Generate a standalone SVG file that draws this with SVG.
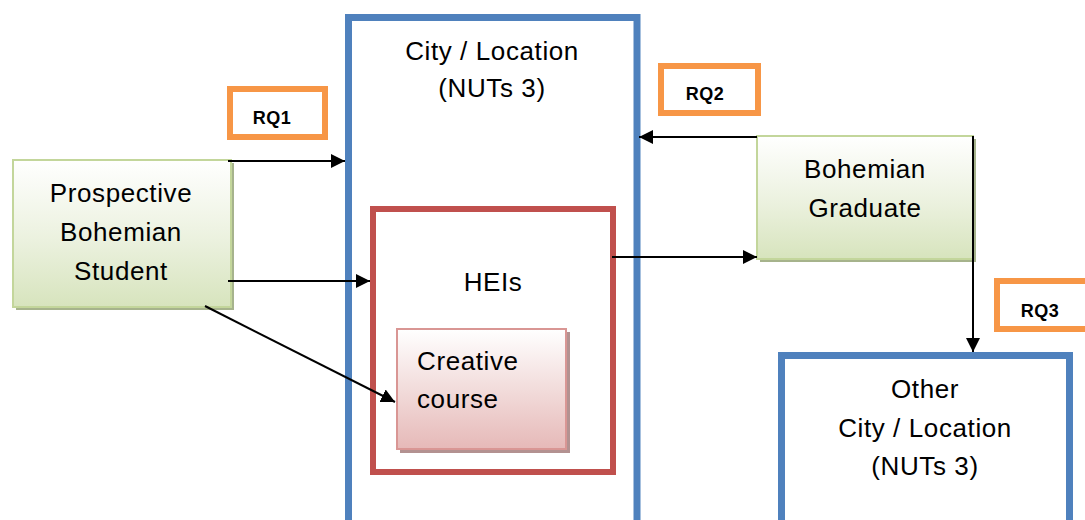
<svg xmlns="http://www.w3.org/2000/svg" width="1085" height="520" viewBox="0 0 1085 520">
  <defs>
    <linearGradient id="greenFill" x1="0" y1="0" x2="0" y2="1">
      <stop offset="0" stop-color="#ffffff"/>
      <stop offset="0.55" stop-color="#ebf1de"/>
      <stop offset="1" stop-color="#d7e4bd"/>
    </linearGradient>
    <linearGradient id="redFill" x1="0" y1="0" x2="0" y2="1">
      <stop offset="0" stop-color="#ffffff"/>
      <stop offset="0.5" stop-color="#f2dcdb"/>
      <stop offset="1" stop-color="#e6b9b8"/>
    </linearGradient>
    <marker id="arrowL" viewBox="0 0 10 10" refX="10" refY="5" markerWidth="14" markerHeight="14" markerUnits="userSpaceOnUse" orient="auto">
      <path d="M0,0 L10,5 L0,10 Z" fill="#000"/>
    </marker>
  </defs>
  <style>
    .txt { font-family: "Liberation Sans", Arial, sans-serif; font-size: 26px; letter-spacing: 0.6px; fill: #000; }
    .rq { font-family: "Liberation Sans", Arial, sans-serif; font-size: 18px; font-weight: bold; letter-spacing: 0.5px; fill: #000; }
    .city { fill: none; stroke: #4f81bd; stroke-width: 7; }
    .hei { fill: none; stroke: #c0504d; stroke-width: 6; }
    .rqbox { fill: #fff; stroke: #f79646; stroke-width: 6; }
    .green { fill: url(#greenFill); stroke: #c3d69b; stroke-width: 2; }
    .pink { fill: url(#redFill); stroke: #d99694; stroke-width: 2; }
    .shadowG { fill: #a6b38c; }
    .shadowR { fill: #b39291; }
    .conn { stroke: #000; stroke-width: 2; fill: none; }
  </style>

  <!-- Main city / location region -->
  <g id="city">
    <rect class="city" x="348.5" y="17.5" width="288.5" height="520"/>
    <text class="txt" text-anchor="middle" x="492" y="60">City / Location</text>
    <text class="txt" text-anchor="middle" x="492" y="97">(NUTs 3)</text>
  </g>

  <!-- Higher education institutions -->
  <g id="heis">
    <rect class="hei" x="373" y="209" width="240" height="263"/>
    <text class="txt" text-anchor="middle" x="493" y="291">HEIs</text>
  </g>

  <!-- Creative course -->
  <g id="creative-course">
    <rect class="shadowR" x="400" y="332" width="170" height="121"/>
    <rect class="pink" x="397" y="329" width="169" height="120"/>
    <text class="txt" x="417" y="370">Creative</text>
    <text class="txt" x="417" y="408">course</text>
  </g>

  <!-- Prospective student -->
  <g id="prospective-student">
    <rect class="shadowG" x="16" y="163" width="218" height="147"/>
    <rect class="green" x="13" y="160" width="218" height="147"/>
    <text class="txt" text-anchor="middle" x="121" y="202">Prospective</text>
    <text class="txt" text-anchor="middle" x="121" y="241">Bohemian</text>
    <text class="txt" text-anchor="middle" x="121" y="280">Student</text>
  </g>

  <!-- Graduate -->
  <g id="bohemian-graduate">
    <rect class="shadowG" x="760" y="139" width="216" height="123"/>
    <rect class="green" x="757" y="136" width="216" height="123"/>
    <text class="txt" text-anchor="middle" x="865" y="178">Bohemian</text>
    <text class="txt" text-anchor="middle" x="865" y="217">Graduate</text>
  </g>

  <!-- Other city / location region -->
  <g id="other-city">
    <rect class="city" x="781.5" y="355.5" width="288" height="200"/>
    <text class="txt" text-anchor="middle" x="925" y="398">Other</text>
    <text class="txt" text-anchor="middle" x="925" y="437">City / Location</text>
    <text class="txt" text-anchor="middle" x="925" y="475">(NUTs 3)</text>
  </g>

  <!-- Research question labels -->
  <g id="rq1">
    <rect class="rqbox" x="230" y="89" width="95" height="48"/>
    <text class="rq" text-anchor="middle" x="272" y="124">RQ1</text>
  </g>
  <g id="rq2">
    <rect class="rqbox" x="661" y="66" width="97" height="47"/>
    <text class="rq" text-anchor="middle" x="705" y="100">RQ2</text>
  </g>
  <g id="rq3">
    <rect class="rqbox" x="997" y="281" width="98" height="48"/>
    <text class="rq" text-anchor="middle" x="1040" y="317">RQ3</text>
  </g>

  <!-- Connectors -->
  <g id="connectors">
    <line class="conn" x1="228" y1="161" x2="345" y2="161" marker-end="url(#arrowL)"/>
    <line class="conn" x1="228" y1="281" x2="370" y2="281" marker-end="url(#arrowL)"/>
    <line class="conn" x1="205" y1="306" x2="395" y2="402" marker-end="url(#arrowL)"/>
    <line class="conn" x1="757" y1="137" x2="639" y2="137" marker-end="url(#arrowL)"/>
    <line class="conn" x1="612" y1="257" x2="757" y2="257" marker-end="url(#arrowL)"/>
    <line class="conn" x1="973" y1="136" x2="973" y2="352" marker-end="url(#arrowL)"/>
  </g>
</svg>
